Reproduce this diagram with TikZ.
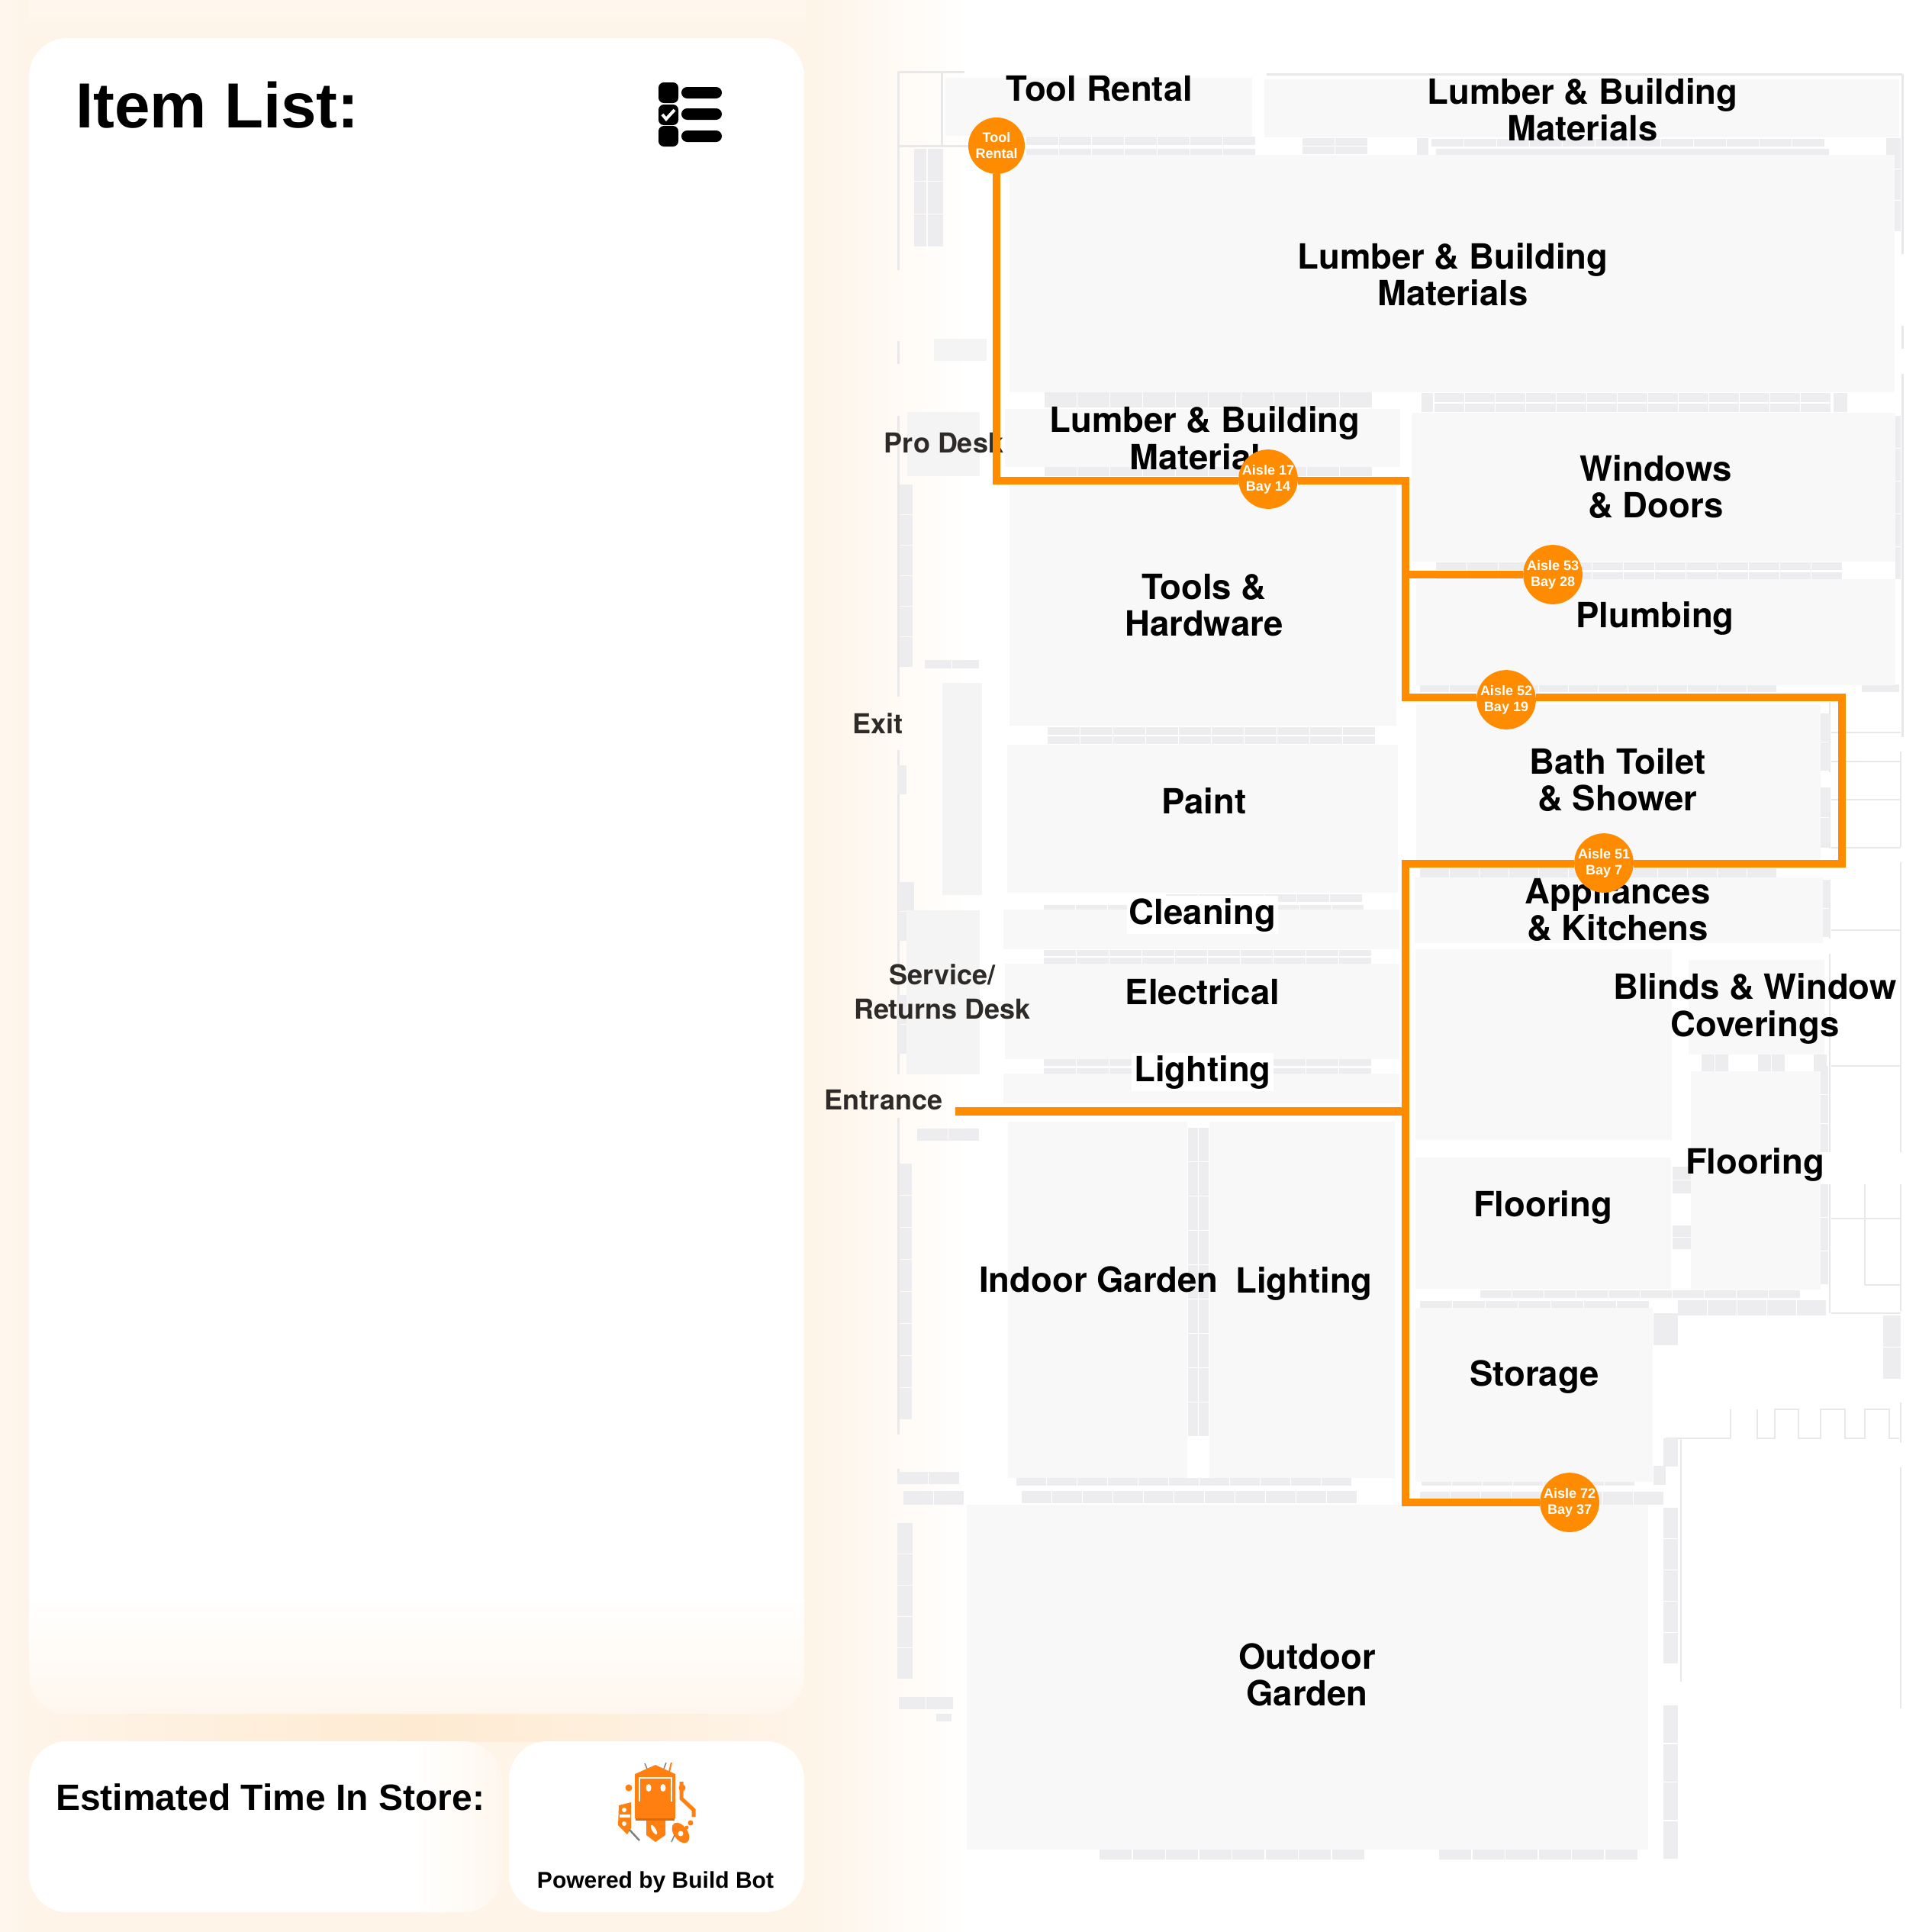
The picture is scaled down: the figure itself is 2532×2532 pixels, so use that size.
\documentclass[tikz,border=0pt]{standalone}
\usepackage{fontspec}
\setmainfont{Liberation Sans}
\newfontfamily\mapfont{TeX Gyre Heros}
\usetikzlibrary{calc}
\definecolor{pRoute}{HTML}{FF8C00}
\definecolor{pPeach}{HTML}{FEF4E8}
\definecolor{pGlow}{HTML}{FEEAD2}
\definecolor{pCream}{HTML}{FFF7EE}
\definecolor{pAisle}{HTML}{F8F8F9}
\definecolor{pDesk}{HTML}{F4F4F4}
\definecolor{pShelf}{HTML}{EDEDEF}
\definecolor{pWall}{HTML}{E9E8E8}
\definecolor{pGrey}{HTML}{2E2A27}
\definecolor{pBot}{HTML}{FF7F11}
\newcommand{\hshelf}[5]{\foreach \i in {1,...,#3} \fill[pShelf] ({#1+(\i-1)*#4},#2) rectangle ({#1+\i*#4-1.5},{#2+#5});}
\newcommand{\vshelf}[5]{\foreach \i in {1,...,#3} \fill[pShelf] (#1,{#2+(\i-1)*#4}) rectangle ({#1+#5},{#2+\i*#4-1.5});}

\begin{document}
\begin{tikzpicture}[
  x=1pt, y=-1pt,
  card/.style={fill=white, rounded corners=50pt},
  aisle/.style={fill=pAisle},
  desk/.style={fill=pDesk},
  wall/.style={draw=pWall, line width=3pt},
  thin wall/.style={draw=pWall, line width=2pt},
  route/.style={draw=pRoute, line width=10.5pt},
  lab/.style={inner sep=0pt, align=center, text=black,
              font=\mapfont\fontsize{45.5}{48.5}\selectfont\bfseries},
  halo/.style={lab, fill=white, inner sep=3pt},
  deskLab/.style={inner sep=0pt, align=center, text=pGrey,
              font=\mapfont\fontsize{36}{45}\selectfont\bfseries},
  stop/.style={circle, fill=pRoute, minimum size=74pt, inner sep=0pt, align=center,
               text=white, font=\fontsize{18}{21}\selectfont\bfseries},
]
\useasboundingbox (0,0) rectangle (2532,2532);

% backdrop glow
\fill[white] (0,0) rectangle (2532,2532);
\fill[pPeach] (38,0) rectangle (1056,2532);
\shade[left color=pPeach, right color=white] (1056,0) rectangle (1270,2532);
\shade[left color=pCream, right color=pPeach] (0,0) rectangle (38,2532);
\shade[left color=pPeach, right color=pPeach, middle color=pGlow] (38,2246) rectangle (1056,2282);
\shade[top color=pCream, bottom color=pPeach] (38,0) rectangle (1056,50);

% cards
\begin{scope}
  \clip[rounded corners=50pt] (38,50) rectangle (1054,2246);
  \fill[white] (38,50) rectangle (1054,2246);
  \shade[top color=white, bottom color=pCream] (38,2090) rectangle (1054,2246);
\end{scope}
\begin{scope}
  \clip[rounded corners=50pt] (38,2282) rectangle (657,2506);
  \fill[white] (38,2282) rectangle (657,2506);
  \shade[left color=white, right color=pCream] (540,2282) rectangle (657,2506);
\end{scope}
\fill[card] (667,2282) rectangle (1054,2506);

\node[anchor=west, inner sep=0pt, font=\fontsize{83.5}{84}\selectfont\bfseries] (itemTitle) at (99,138) {Item List:};
\node[anchor=west, inner sep=0pt, font=\fontsize{48}{48}\selectfont\bfseries] (timeTitle) at (73,2355) {Estimated Time In Store:};
\node[inner sep=0pt, font=\fontsize{30}{30}\selectfont\bfseries] (poweredBy) at (859,2467) {Powered by Build Bot};

% list icon
\foreach \y in {108,137,165} \fill[black, rounded corners=7pt] (863,\y) rectangle (889,\y+27);
\foreach \y in {114,142,171} \fill[black, rounded corners=7.5pt] (893,\y) rectangle (946,\y+15);
\draw[white, line width=4pt] (868,150) -- (873,156) -- (884,144);

% robot
\fill[pBot] (859,2313) -- (885,2325) -- (885,2383) -- (832,2383) -- (832,2325) -- cycle;
\fill[pBot!85!black] (833,2383) rectangle (884,2386);
\draw[white, line width=1.5pt] (838,2361) -- (838,2330) -- (880,2330) -- (880,2361);
\foreach \x in {850,869} \fill[white] (\x,2343) ellipse (3.5 and 5);
\fill[pBot] (847,2386) -- (872,2386) -- (872,2405) -- (859,2414) -- (847,2405) -- cycle;
\fill[white, rotate around={30:(857,2398)}] (857,2398) ellipse (2.5 and 7);
\foreach \x in {824,894} \fill[pBot] (\x,2343) circle (4.5);
\fill[pBot] (811,2366) -- (827,2362) -- (827,2396) -- (822,2404) -- (810,2392) -- cycle;
\fill[white] (818,2372) circle (3) (818,2390) circle (3) (812,2378) rectangle (826,2382);
\draw[pBot, line width=5pt] (893,2335) -- (893,2357) -- (909,2372) -- (909,2381);
\fill[pBot, rotate around={35:(892,2402)}] (892,2402) ellipse (9 and 15);
\fill[white] (892,2403) circle (3.5);
\fill[pBot] (905,2389) circle (3.5) (900,2395) circle (2.5);
\draw[gray, line width=2.5pt] (825,2398) -- (838,2412);
\draw[gray, line width=1.5pt] (880,2414) -- (884,2405) (845,2311) -- (848,2318) (873,2310) -- (870,2318);
\draw[pBot, line width=2pt] (880,2310) -- (877,2322);

% outer walls
\foreach \a/\b/\c/\d in {1177/94/1264/94, 1177/94/1177/354, 1177/191/1270/191, 1234/94/1234/191,
    1177/447/1177/477, 1177/545/1177/913, 1177/983/1177/1408, 1177/1465/1177/1880, 1177/1925/1177/1945,
    1660/97/2493/97, 2493/97/2493/333, 2493/427/2493/457, 2493/490/2493/966}
  \draw[wall] (\a,\b) -- (\c,\d);
\foreach \a/\b/\c/\d in {2400/960/2491/960, 2400/998/2491/998, 2400/1048/2491/1048, 2400/1111/2491/1111,
    2400/1219/2491/1219, 2400/1397/2491/1397, 2400/1597/2491/1597, 2444/1684/2491/1684, 2400/1721/2491/1721,
    2398/920/2398/1012, 2398/1032/2398/1112, 2398/1153/2398/1230, 2398/1250/2398/1510, 2398/1552/2398/1721,
    2491/985/2491/1110, 2491/1130/2491/1510, 2491/1552/2491/1718, 2444/1552/2444/1684,
    2203/1885/2203/2204, 2491/1838/2491/1891, 2491/1923/2491/2239, 2183/1885/2268/1885, 2268/1847/2268/1885}
  \draw[thin wall] (\a,\b) -- (\c,\d);
\draw[thin wall] (2303,1847) -- (2303,1885) -- (2326,1885) -- (2326,1847) -- (2357,1847) -- (2357,1885)
  -- (2386,1885) -- (2386,1847) -- (2418,1847) -- (2418,1885) -- (2444,1885) -- (2444,1847)
  -- (2476,1847) -- (2476,1885) -- (2489,1885);

% shelves
\foreach \x/\y/\n/\w/\h in {1345/179/7/43/11, 1345/195/7/43/8, 1707/181/2/43/10, 1707/192/2/43/10,
    1876/182/12/43/10, 1882/195/1/516/10, 1857/181/1/16/22, 1880/515/13/40/12, 1880/529/13/40/11,
    1863/515/1/16/25, 2403/515/1/19/25, 1369/514/10/43/20, 1369/612/10/43/12, 1882/737/13/41/10,
    1882/750/13/41/9, 1861/897/12/39/10, 2440/897/1/50/10, 1373/953/10/43/10, 1373/965/10/43/10,
    1528/1172/6/43/10, 1368/1186/10/42/6, 1368/1245/10/43/8, 1368/1255/10/43/8, 1368/1388/10/43/9,
    1368/1400/10/43/7, 1202/1479/2/41/16, 1332/1937/11/40/10, 1339/1954/11/40/16, 1176/1929/2/41/16,
    1184/1954/2/40/18, 1178/2224/2/36/16, 1227/2246/1/21/10, 1441/2424/8/43.5/13, 1886/2424/6/43.5/13,
    1863/1942/7/40/5, 1861/1955/8/40/17, 2199/1704/5/39/20, 1940/1691/10/42/10, 1861/1705/7/43/9,
    2230/1382/2/18/22, 2304/1382/2/18/22, 2377/1382/1/18/22, 1212/865/2/36/11, 1861/1138/12/39/12}
  {\hshelf{\x}{\y}{\n}{\w}{\h}}
\foreach \x/\y/\n/\h/\w in {1198/195/3/43/16, 1216/195/3/43/20, 2472/181/3/41/19, 2484/545/5/43/7,
    1179/635/6/40/17, 1176/1003/1/39/12, 1177/1156/2/39/21, 1177/1304/2/39/21, 1557/1478/9/45/13,
    1571/1478/9/45/13, 1179/1525/8/42/16, 1176/1996/5/41/20, 2180/1976/5/41/19, 2180/2235/4/50.5/19,
    2180/1885/1/38/19, 2167/1921/1/26/16, 2386/935/2/38/12, 2386/1032/2/40/12, 2386/1153/2/38/12,
    2386/1397/3/38/10, 2386/1552/3/44/10, 2192/1529/2/18/24, 2192/1606/2/16/24, 2167/1721/1/43/32,
    2468/1724/2/42/23}
  {\vshelf{\x}{\y}{\n}{\h}{\w}}

% departments
\foreach \a/\b/\c/\d in {1239/102/1641/178, 1657/104/2489/180, 1323/203/2483/514, 1317/536/1835/612,
    1850/541/2484/736, 1856/759/2484/898, 1323/636/1830/951, 1320/976/1832/1170, 1315/1192/1834/1244,
    1317/1263/1834/1388, 1315/1407/1834/1446, 1321/1470/1556/1937, 1585/1470/1828/1937,
    1856/923/2386/1127, 1854/1150/2389/1236, 1855/1244/2191/1494, 2213/1258/2391/1382,
    1855/1517/2190/1689, 2216/1404/2386/1690, 1855/1714/2166/1942, 1267/1972/2160/2424}
  \fill[aisle] (\a,\b) rectangle (\c,\d);
\foreach \a/\b/\c/\d in {1189/540/1284/624, 1235/895/1287/1173, 1188/1193/1284/1408, 1224/444/1293/473}
  \fill[desk] (\a,\b) rectangle (\c,\d);

% labels
\node[lab] (toolRental) at (1441,116) {Tool Rental};
\node[lab] (lumberTop) at (2074,144) {Lumber \& Building\\Materials};
\node[lab] (lumberBig) at (1904,360) {Lumber \& Building\\Materials};
\node[lab] (lumberMid) at (1579,574) {Lumber \& Building\\Materials};
\node[lab] (windows) at (2170,638) {Windows\\\& Doors};
\node[lab] (plumbing) at (2169,810) {Plumbing};
\node[lab] (tools) at (1578,793) {Tools \&\\Hardware};
\node[lab] (paint) at (1578,1050) {Paint};
\node[halo] (cleaning) at (1576,1199) {Cleaning};
\node[lab] (electrical) at (1576,1300) {Electrical};
\node[halo] (lightingUp) at (1576,1405) {Lighting};
\node[lab] (bath) at (2120,1022) {Bath Toilet\\\& Shower};
\node[lab] (appliances) at (2120,1192) {Appliances\\\& Kitchens};
\node[lab] (blinds) at (2300,1322) {Blinds \& Window\\Coverings};
\node[lab] (flooringR) at (2300,1526) {Flooring};
\node[lab] (flooringL) at (2022,1582) {Flooring};
\node[lab] (storage) at (2011,1805) {Storage};
\node[lab] (indoor) at (1440,1677) {Indoor Garden};
\node[lab] (lightingLow) at (1709,1682) {Lighting};
\node[lab] (outdoor) at (1713,2195) {Outdoor\\Garden};
\node[deskLab] (proDesk) at (1237,581) {Pro Desk};
\node[deskLab] (exit) at (1150,948) {Exit};
\node[deskLab] (service) at (1235,1300) {Service/\\Returns Desk};
\node[deskLab] (entrance) at (1158,1442) {Entrance};

% stops
\node[stop] (toolStop) at (1306,191) {Tool\\Rental};
\node[stop] (a17) at (1662,628) {Aisle 17\\Bay 14};
\node[stop] (a53) at (2035,753) {Aisle 53\\Bay 28};
\node[stop] (a52) at (1974,917) {Aisle 52\\Bay 19};
\node[stop] (a51) at (2102,1131) {Aisle 51\\Bay 7};
\node[stop] (a72) at (2057,1969) {Aisle 72\\Bay 37};
\coordinate (entry) at (1252,1456.5);
\coordinate (turnA) at (1842,630);
\coordinate (turnB) at (1842,914);
\coordinate (turnC) at (2414,914);
\coordinate (turnD) at (2414,1132);
\coordinate (turnE) at (1842,1132);
\coordinate (turnF) at (1842,1969);

% route
\draw[route, line join=miter] (toolStop.south) |- (a17.west |- turnA);
\draw[route, line join=miter] (a17.east |- turnA) -- (turnA) -- (turnB) -- (a52.west |- turnB);
\draw[route, line join=miter] (a52.east |- turnC) -- (turnC) -- (turnD) -- (a51.east |- turnD);
\draw[route, line join=miter] (a51.west |- turnE) -- (turnE) -- (turnF) -- (a72.west |- turnF);
\draw[route] (turnA |- a53) -- (a53.west);
\draw[route] (entry) -- (entry -| turnE);
\end{tikzpicture}
\end{document}
